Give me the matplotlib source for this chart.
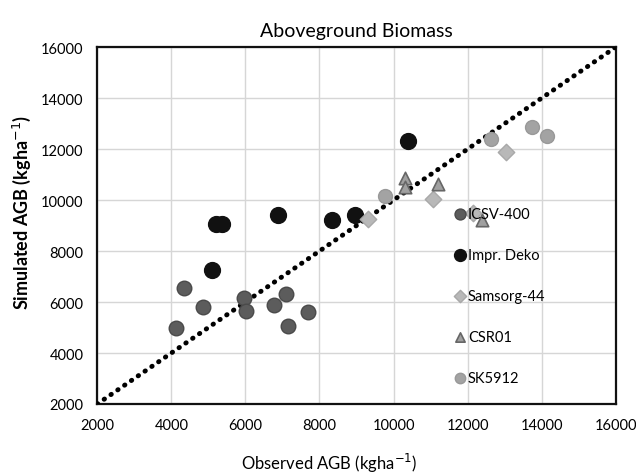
import matplotlib
matplotlib.use('Agg')
import matplotlib.pyplot as plt

plt.rcParams['font.family'] = ['Lato', 'DejaVu Sans']

# observed / simulated AGB (kg/ha) per cultivar
icsv_obs = [4130, 4350, 4850, 5950, 6020, 6780, 7100, 7150, 7680]
icsv_sim = [5000, 6550, 5800, 6150, 5650, 5900, 6300, 5050, 5600]
deko_obs = [5100, 5200, 5380, 6870, 8330, 8950, 10380]
deko_sim = [7250, 9050, 9050, 9400, 9200, 9400, 12300]
sams_obs = [9300, 11080, 12150, 13050]
sams_sim = [9250, 10050, 9500, 11900]
csr_obs = [10320, 10300, 11200, 12400]
csr_sim = [10850, 10500, 10650, 9200]
sk_obs = [9780, 12620, 13730, 14150]
sk_sim = [10150, 12400, 12850, 12500]

ticks = [2000, 4000, 6000, 8000, 10000, 12000, 14000, 16000]

fig = plt.figure(figsize=(6.36, 4.77), dpi=100)
ax = fig.add_axes([0.153, 0.151, 0.815, 0.748])

ax.plot([2000, 16000], [2000, 16000], color='black', linewidth=3.5,
        linestyle=(0, (0.1, 1.6)), dash_capstyle='round', zorder=3)

ax.scatter(icsv_obs, icsv_sim, s=110, marker='o', color='#5c5c5c',
           edgecolors='#4a4a4a', label='ICSV-400', zorder=4)
ax.scatter(deko_obs, deko_sim, s=130, marker='o', color='#111111',
           label='Impr. Deko', zorder=4)
ax.scatter(sams_obs, sams_sim, s=70, marker='D', color='#b8b8b8',
           edgecolors='#a8a8a8', label='Samsorg-44', zorder=4)
ax.scatter(csr_obs, csr_sim, s=80, marker='^', color='#a0a0a0',
           edgecolors='#666666', linewidths=1.2, label='CSR01', zorder=4)
ax.scatter(sk_obs, sk_sim, s=100, marker='o', color='#a3a3a3',
           edgecolors='#999999', label='SK5912', zorder=4)

ax.set_xlim(2000, 16000)
ax.set_ylim(2000, 16000)
ax.set_xticks(ticks)
ax.set_yticks(ticks)
ax.grid(True, color='#d6d6d6', linewidth=1)
ax.set_axisbelow(True)
ax.tick_params(length=0, labelsize=10.5, pad=10)
for s in ax.spines.values():
    s.set_linewidth(1.6)
    s.set_color('#111111')

ax.set_title('Aboveground Biomass', fontsize=14, pad=8)
ax.set_xlabel('Observed AGB (kgha$^{-1}$)', fontsize=12, va='center')
ax.set_ylabel('Simulated AGB (kgha$^{-1}$)', fontsize=13, fontweight='bold',
              va='center')
ax.xaxis.set_label_coords(0.448, -0.165)
ax.yaxis.set_label_coords(-0.145, 0.54)

leg = ax.legend(loc='upper left', bbox_to_anchor=(0.66, 0.59),
                frameon=False, fontsize=10.5, labelspacing=1.85,
                handletextpad=0.05, handlelength=1.0, markerscale=0.75)

fig.savefig('out.png', dpi=100)
